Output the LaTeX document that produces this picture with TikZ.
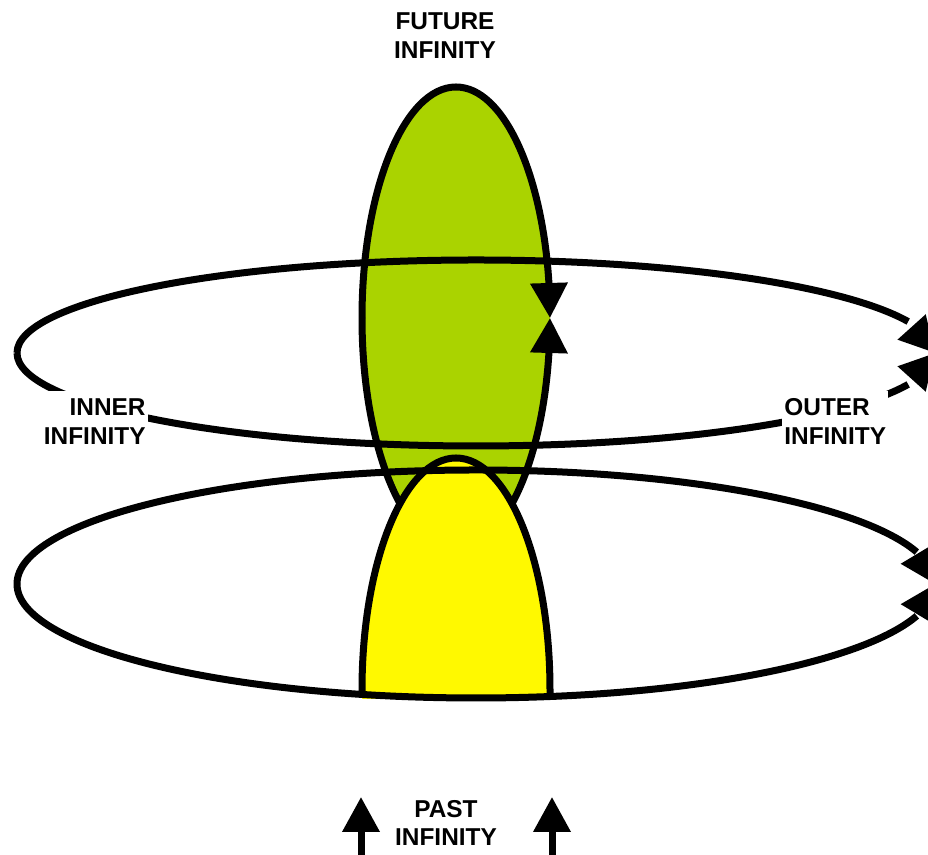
\documentclass[tikz,border=0pt]{standalone}
\usepackage{fontspec}
\setmainfont{Liberation Sans}
\usepackage{tikz}
\usetikzlibrary{arrows.meta,bending}
\definecolor{infGreen}{HTML}{AAD300}
\definecolor{infYellow}{HTML}{FFF900}
\tikzset{
  inf diagram/.style={x=0.5pt, y=0.5pt, line cap=butt, line join=round},
  inf line/.style={draw=black, line width=3.5pt},
  inf loop/.style={inf line, -{Triangle[length=17.5pt, width=18pt, flex]}},
  inf label/.style={font=\fontsize{12.2}{14.2}\selectfont\bfseries,
    fill=white, inner xsep=1pt, inner ysep=4pt}
}
\begin{document}
\begin{tikzpicture}[inf diagram]
\useasboundingbox (0,0) rectangle (928,855);
\fill[infGreen] (456,537) ellipse [x radius=94, y radius=231];
\draw[inf loop] (362,537) arc [start angle=180, end angle=0, x radius=94, y radius=231];
\draw[inf loop] (362,537) arc [start angle=180, end angle=360, x radius=94, y radius=231];
\draw[inf loop] (17,502) arc [start angle=180, end angle=0, x radius=459, y radius=93];
\draw[inf loop] (17,502) arc [start angle=180, end angle=360, x radius=459, y radius=93];
\fill[infYellow] (362,156) -- (362,165) arc [start angle=180, end angle=0, x radius=94, y radius=232] -- (550,156) -- cycle;
\draw[inf line] (362,158) -- (362,165) arc [start angle=180, end angle=0, x radius=94, y radius=232] -- (550,158);
\draw[inf loop] (17,271) arc [start angle=180, end angle=0, x radius=459, y radius=114];
\draw[inf loop] (17,271) arc [start angle=180, end angle=360, x radius=459, y radius=114];
\node[inf label, align=center] (future) at (445,819.4) {FUTURE\\INFINITY};
\node[inf label, align=right, anchor=east] (inner) at (148,433.5) {INNER\\INFINITY};
\node[inf label, align=left, anchor=west] (outer) at (782,433.5) {OUTER\\INFINITY};
\node[inf label, align=center] (past) at (446,31.8) {PAST\\INFINITY};
\coordinate (pastL) at (361,0);
\coordinate (pastLtip) at (361,58);
\coordinate (pastR) at (552,0);
\coordinate (pastRtip) at (552,58);
\draw[inf loop] (pastL) -- (pastLtip);
\draw[inf loop] (pastR) -- (pastRtip);
\end{tikzpicture}
\end{document}
